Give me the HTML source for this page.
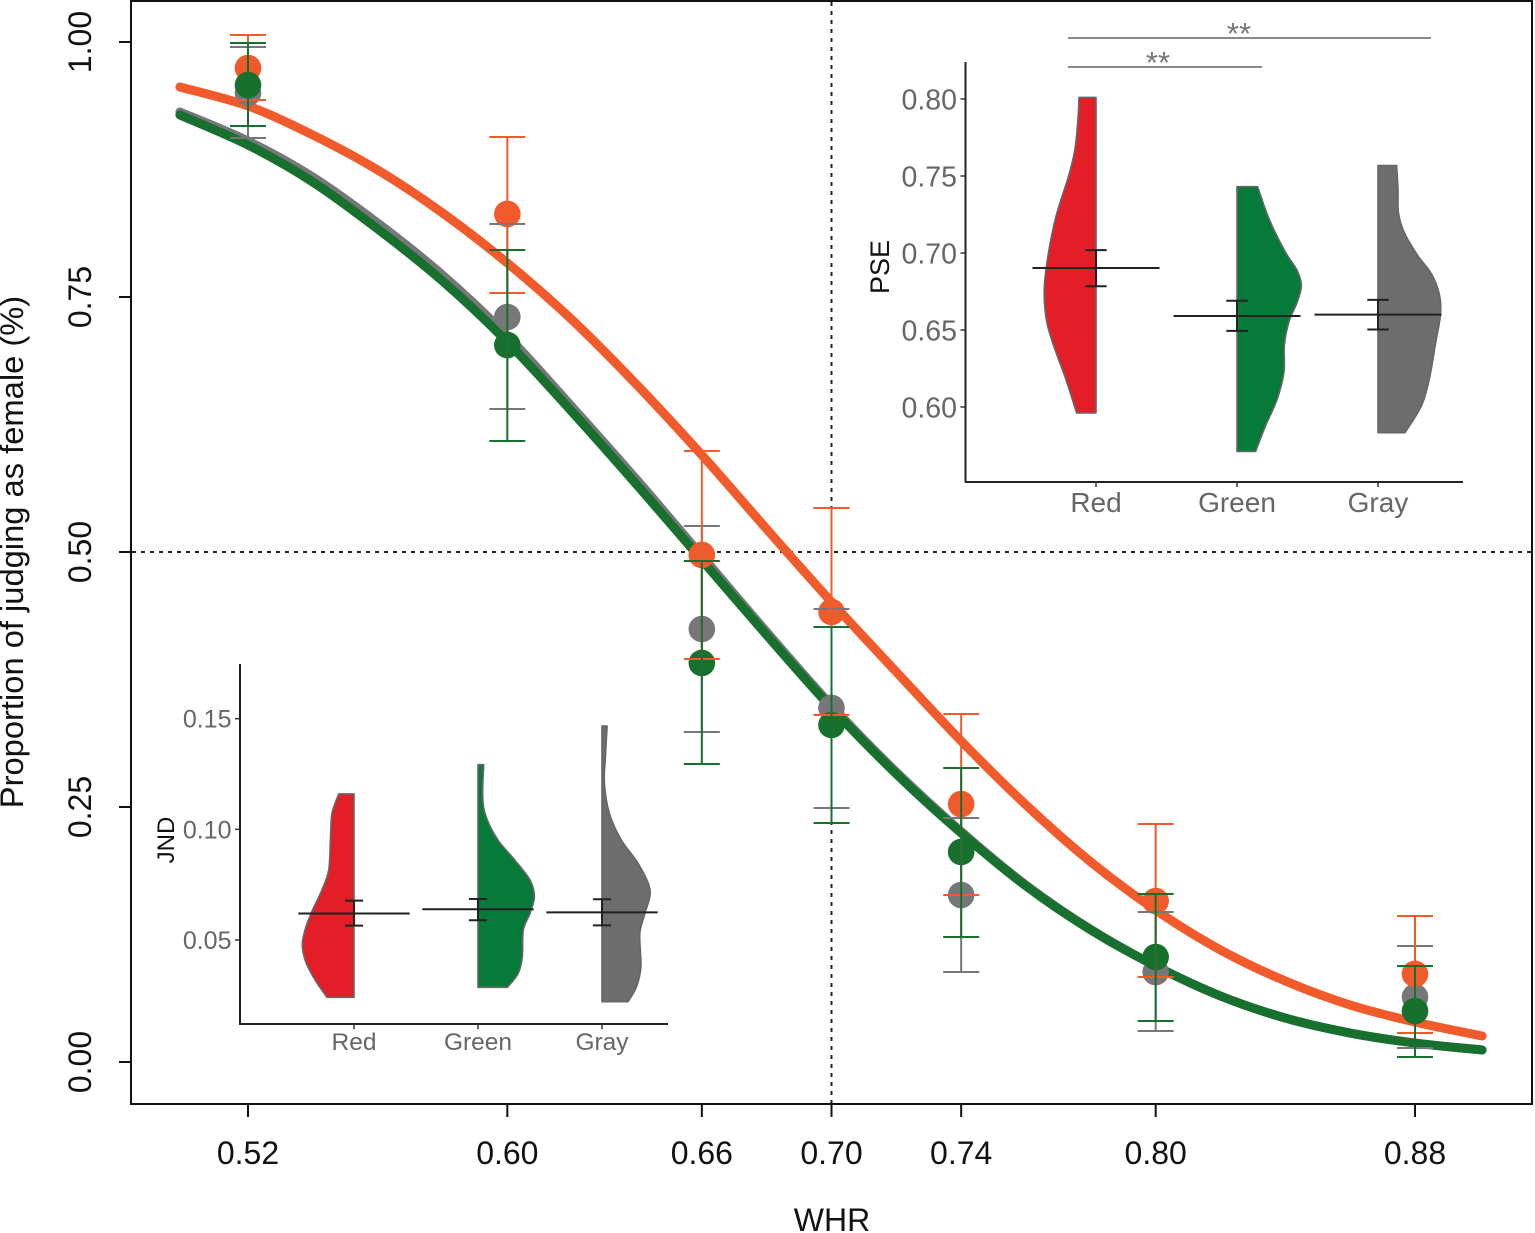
<!DOCTYPE html>
<html lang="en">
<head>
<meta charset="utf-8">
<title>Proportion of judging as female by WHR</title>
<style>
html,body{margin:0;padding:0;background:#fff;}
svg{display:block;font-family:"Liberation Sans",Arial,sans-serif;}
</style>
</head>
<body>
<svg id="chart" xmlns="http://www.w3.org/2000/svg" width="1535" height="1233" viewBox="0 0 1535 1233">
  <rect x="0" y="0" width="1535" height="1233" fill="#fff"/>
  <line x1="831.5" y1="2" x2="831.5" y2="1103" stroke="#222" stroke-width="2" stroke-dasharray="4 5"/>
  <line x1="132" y1="552" x2="1531" y2="552" stroke="#222" stroke-width="2" stroke-dasharray="4 5"/>
  <g id="main-curves"></g>
  <g id="main-points"></g>
  <g id="main-bars"></g>
  <rect x="131" y="1" width="1401" height="1103" fill="none" stroke="#111" stroke-width="2"/>
  <g id="main-axes"></g>
  <text x="832" y="1231" text-anchor="middle" font-size="32" fill="#111">WHR</text>
  <text transform="translate(23 552) rotate(-90)" text-anchor="middle" font-size="32.7" fill="#111">Proportion of judging as female (%)</text>

  <g id="pse-inset">
    <line x1="965.5" y1="62" x2="965.5" y2="482" stroke="#222" stroke-width="2"/>
    <line x1="965" y1="482" x2="1463" y2="482" stroke="#222" stroke-width="2"/>
    <text transform="translate(889 267) rotate(-90)" text-anchor="middle" font-size="27" fill="#111">PSE</text>
    <line x1="1068" y1="38" x2="1431" y2="38" stroke="#8a8a8a" stroke-width="2"/>
    <text x="1239" y="44" text-anchor="middle" font-size="31" fill="#77777a">**</text>
    <line x1="1068" y1="67" x2="1262" y2="67" stroke="#8a8a8a" stroke-width="2"/>
    <text x="1158" y="73" text-anchor="middle" font-size="31" fill="#77777a">**</text>
  </g>

  <g id="jnd-inset">
    <line x1="240" y1="664" x2="240" y2="1024" stroke="#222" stroke-width="2"/>
    <line x1="239" y1="1024" x2="668" y2="1024" stroke="#222" stroke-width="2"/>
    <text transform="translate(174 840) rotate(-90)" text-anchor="middle" font-size="24" fill="#111">JND</text>
  </g>
</svg>

<script>
// ---- Main chart data ----
const whrTicks = [0.52, 0.60, 0.66, 0.70, 0.74, 0.80, 0.88];
const proportionTicks = [0.00, 0.25, 0.50, 0.75, 1.00];

const redMeans = [0.9745, 0.8314, 0.4971, 0.4412, 0.2529, 0.1578, 0.0863];
const redUpper = [1.0069, 0.9069, 0.5990, 0.5431, 0.3412, 0.2333, 0.1431];
const redLower = [0.9431, 0.7539, 0.3951, 0.3402, 0.1637, 0.0833, 0.0284];

const grayMeans = [0.9500, 0.7304, 0.4245, 0.3471, 0.1637, 0.0882, 0.0637];
const grayUpper = [0.9951, 0.8216, 0.5255, 0.4441, 0.2392, 0.1471, 0.1137];
const grayLower = [0.9059, 0.6402, 0.3235, 0.2490, 0.0882, 0.0304, 0.0137];

const greenMeans = [0.9578, 0.7029, 0.3912, 0.3304, 0.2059, 0.1029, 0.0500];
const greenUpper = [0.9990, 0.7961, 0.4912, 0.4265, 0.2882, 0.1647, 0.0941];
const greenLower = [0.9176, 0.6088, 0.2922, 0.2343, 0.1225, 0.0402, 0.0049];

const curveWhr = [0.499, 0.52, 0.54, 0.56, 0.58, 0.60, 0.62, 0.64, 0.66, 0.68, 0.70, 0.72, 0.74, 0.76, 0.78, 0.80, 0.82, 0.84, 0.86, 0.88, 0.9007];
const redCurve = [0.9559, 0.9373, 0.9088, 0.8745, 0.8324, 0.7833, 0.7275, 0.6637, 0.5951, 0.5225, 0.4510, 0.3824, 0.3147, 0.2520, 0.1961, 0.1490, 0.1098, 0.0794, 0.0559, 0.0392, 0.0255];
const grayCurve = [0.9314, 0.9029, 0.8676, 0.8225, 0.7716, 0.7118, 0.6422, 0.5706, 0.4961, 0.4216, 0.3495, 0.2843, 0.2260, 0.1735, 0.1299, 0.0941, 0.0647, 0.0431, 0.0284, 0.0186, 0.0118];
const greenCurve = [0.9284, 0.8990, 0.8627, 0.8167, 0.7657, 0.7059, 0.6373, 0.5657, 0.4922, 0.4186, 0.3471, 0.2824, 0.2245, 0.1725, 0.1294, 0.0941, 0.0647, 0.0431, 0.0284, 0.0186, 0.0118];

// ---- PSE inset data ----
const conditionLabels = ['Red', 'Green', 'Gray'];
const pseTicks = [0.60, 0.65, 0.70, 0.75, 0.80];
const pseRedLevels = [0.801, 0.7875, 0.7677, 0.7502, 0.7238, 0.6975, 0.6755, 0.6558, 0.6382, 0.6185, 0.5961];
const pseRedDensity = [0.170, 0.180, 0.210, 0.273, 0.400, 0.482, 0.518, 0.494, 0.415, 0.304, 0.194];
const pseGreenLevels = [0.7431, 0.7216, 0.7008, 0.6887, 0.6788, 0.6679, 0.6558, 0.6404, 0.6229, 0.6053, 0.5877, 0.5711];
const pseGreenDensity = [0.206, 0.324, 0.482, 0.601, 0.644, 0.601, 0.522, 0.474, 0.470, 0.403, 0.285, 0.186];
const pseGrayLevels = [0.7568, 0.7414, 0.7260, 0.7129, 0.6986, 0.6865, 0.6733, 0.6602, 0.6404, 0.6185, 0.6009, 0.5833];
const pseGrayDensity = [0.186, 0.200, 0.205, 0.265, 0.395, 0.534, 0.613, 0.625, 0.573, 0.514, 0.435, 0.269];
const pseMeans = [0.6903, 0.6591, 0.6600];
const pseUpper = [0.7019, 0.6690, 0.6696];
const pseLower = [0.6784, 0.6494, 0.6503];

// ---- JND inset data ----
const jndTicks = [0.05, 0.10, 0.15];
const jndRedLevels = [0.1160, 0.1072, 0.0952, 0.0816, 0.0726, 0.0628, 0.0545, 0.0477, 0.0402, 0.0319, 0.0241];
const jndRedDensity = [0.152, 0.220, 0.236, 0.253, 0.321, 0.422, 0.490, 0.517, 0.483, 0.389, 0.270];
const jndGreenLevels = [0.1292, 0.1148, 0.1057, 0.0952, 0.0861, 0.0771, 0.0696, 0.0620, 0.0545, 0.0425, 0.0349, 0.0286];
const jndGreenDensity = [0.057, 0.047, 0.081, 0.199, 0.368, 0.520, 0.564, 0.520, 0.453, 0.443, 0.402, 0.294];
const jndGrayLevels = [0.1467, 0.1328, 0.1208, 0.1072, 0.0952, 0.0846, 0.0726, 0.0620, 0.0530, 0.0380, 0.0289, 0.0221];
const jndGrayDensity = [0.051, 0.034, 0.024, 0.074, 0.193, 0.361, 0.480, 0.429, 0.378, 0.389, 0.345, 0.260];
const jndMeans = [0.0620, 0.0639, 0.0625];
const jndUpper = [0.0678, 0.0685, 0.0684];
const jndLower = [0.0565, 0.0589, 0.0566];

// ---- Axis functions ----
function xMain(v) { return 248 + (v - 0.52) * 3241.67; }
function yMain(v) { return 1062 - v * 1020; }
function yPse(v) { return 99 + (0.80 - v) * 1540; }
function yJnd(v) { return 940 - (v - 0.05) * 2213; }
function densityPx(d) { return d * 100; }
const pseCenters = [1096, 1237, 1378];
const jndCenters = [354, 478, 602];

const NS = 'http://www.w3.org/2000/svg';
function make(tag, parent) {
  const el = document.createElementNS(NS, tag);
  parent.appendChild(el);
  return el;
}
function smoothPath(pts, startCmd) {
  let d = (startCmd || 'M') + pts[0][0].toFixed(2) + ' ' + pts[0][1].toFixed(2);
  for (let i = 0; i < pts.length - 1; i++) {
    const p0 = pts[Math.max(i - 1, 0)], p1 = pts[i], p2 = pts[i + 1], p3 = pts[Math.min(i + 2, pts.length - 1)];
    const c1x = p1[0] + (p2[0] - p0[0]) / 6, c1y = p1[1] + (p2[1] - p0[1]) / 6;
    const c2x = p2[0] - (p3[0] - p1[0]) / 6, c2y = p2[1] - (p3[1] - p1[1]) / 6;
    d += 'C' + c1x.toFixed(2) + ' ' + c1y.toFixed(2) + ' ' + c2x.toFixed(2) + ' ' + c2y.toFixed(2) + ' ' + p2[0].toFixed(2) + ' ' + p2[1].toFixed(2);
  }
  return d;
}

// ---- Main curves ----
const curvesG = document.getElementById('main-curves');
[['gray', grayCurve, '#77777a'], ['green', greenCurve, '#17702e'], ['red', redCurve, '#f15a2b']].forEach(function (s) {
  const el = make('path', curvesG);
  
  
  el.setAttribute('d', smoothPath(curveWhr.map(function (w, i) { return [xMain(w), yMain(s[1][i])]; })));
  el.setAttribute('fill', 'none');
  el.setAttribute('stroke', s[2]);
  el.setAttribute('stroke-width', '9');
  el.setAttribute('stroke-linecap', 'round');
});

// ---- Points ----
const pointsG = document.getElementById('main-points');
[['gray', grayMeans, '#77777a'], ['red', redMeans, '#f15a2b'], ['green', greenMeans, '#17702e']].forEach(function (s) {
  s[1].forEach(function (v, i) {
    const el = make('circle', pointsG);
    
    
    el.setAttribute('cx', xMain(whrTicks[i]));
    el.setAttribute('cy', yMain(v));
    el.setAttribute('r', '13.3');
    el.setAttribute('fill', s[2]);
  });
});

// ---- Error bars ----
const barsG = document.getElementById('main-bars');
[['gray', grayUpper, grayLower, '#77777a'], ['red', redUpper, redLower, '#f15a2b'], ['green', greenUpper, greenLower, '#17702e']].forEach(function (s) {
  whrTicks.forEach(function (w, i) {
    const x = xMain(w), yu = yMain(s[1][i]), yl = yMain(s[2][i]);
    const el = make('path', barsG);
    
    
    el.setAttribute('d', 'M' + (x - 18) + ' ' + yu + 'H' + (x + 18) + 'M' + x + ' ' + yu + 'V' + yl + 'M' + (x - 18) + ' ' + yl + 'H' + (x + 18));
    el.setAttribute('fill', 'none');
    el.setAttribute('stroke', s[3]);
    el.setAttribute('stroke-width', '2');
  });
});

// ---- Main axes ----
const axesG = document.getElementById('main-axes');
whrTicks.forEach(function (w) {
  const t = make('line', axesG);
  
  
  t.setAttribute('x1', xMain(w));
  t.setAttribute('x2', xMain(w));
  t.setAttribute('y1', 1104);
  t.setAttribute('y2', 1117);
  t.setAttribute('stroke', '#111');
  t.setAttribute('stroke-width', '2');
  const l = make('text', axesG);
  
  
  l.setAttribute('x', xMain(w));
  l.setAttribute('y', 1164);
  l.setAttribute('text-anchor', 'middle');
  l.setAttribute('font-size', '32');
  l.setAttribute('fill', '#111');
  l.textContent = w.toFixed(2);
});
proportionTicks.forEach(function (v) {
  const t = make('line', axesG);
  
  
  t.setAttribute('x1', 119);
  t.setAttribute('x2', 131);
  t.setAttribute('y1', yMain(v));
  t.setAttribute('y2', yMain(v));
  t.setAttribute('stroke', '#111');
  t.setAttribute('stroke-width', '2');
  const l = make('text', axesG);
  
  
  l.setAttribute('transform', 'translate(91 ' + yMain(v) + ') rotate(-90)');
  l.setAttribute('text-anchor', 'middle');
  l.setAttribute('font-size', '32');
  l.setAttribute('fill', '#111');
  l.textContent = v.toFixed(2);
});

// ---- Insets ----
const violinFills = { Red: '#e41e26', Green: '#067a38', Gray: '#6d6d6d' };
function drawInset(opts) {
  const g = document.getElementById(opts.group);
  opts.ticks.forEach(function (v) {
    const t = make('line', g);
    
    
    t.setAttribute('x1', opts.axisX - 5);
    t.setAttribute('x2', opts.axisX);
    t.setAttribute('y1', opts.y(v));
    t.setAttribute('y2', opts.y(v));
    t.setAttribute('stroke', '#333');
    t.setAttribute('stroke-width', '1.5');
    const l = make('text', g);
    
    
    l.setAttribute('x', opts.axisX - 8.5);
    l.setAttribute('y', opts.y(v) + opts.font * 0.36);
    l.setAttribute('text-anchor', 'end');
    l.setAttribute('font-size', opts.font);
    l.setAttribute('fill', '#666');
    l.textContent = v.toFixed(2);
  });
  conditionLabels.forEach(function (name, i) {
    const cx = opts.centers[i];
    const side = name === 'Red' ? -1 : 1;
    const levels = opts.levels[i], dens = opts.density[i];
    const edge = levels.map(function (v, k) { return [cx + side * densityPx(dens[k]), opts.y(v)]; });
    const v = make('path', g);
    
    
    v.setAttribute('d', 'M' + cx + ' ' + edge[0][1].toFixed(2) + smoothPath(edge, 'L') + 'L' + cx + ' ' + edge[edge.length - 1][1].toFixed(2) + 'Z');
    v.setAttribute('fill', violinFills[name]);
    v.setAttribute('stroke', '#666');
    v.setAttribute('stroke-width', '1.6');
    v.setAttribute('stroke-linejoin', 'round');

    const ym = opts.y(opts.means[i]), yu = opts.y(opts.upper[i]), yl = opts.y(opts.lower[i]);
    const e = make('path', g);
    
    
    e.setAttribute('d', 'M' + (cx - opts.meanHalf) + ' ' + ym + 'H' + (cx + opts.meanHalf) +
      'M' + (cx - opts.capHalf) + ' ' + yu + 'H' + (cx + opts.capHalf) +
      'M' + cx + ' ' + yu + 'V' + yl +
      'M' + (cx - opts.capHalf) + ' ' + yl + 'H' + (cx + opts.capHalf));
    e.setAttribute('fill', 'none');
    e.setAttribute('stroke', '#222');
    e.setAttribute('stroke-width', '2');

    const t = make('line', g);
    
    
    t.setAttribute('x1', cx);
    t.setAttribute('x2', cx);
    t.setAttribute('y1', opts.bottom);
    t.setAttribute('y2', opts.bottom + 5);
    t.setAttribute('stroke', '#333');
    t.setAttribute('stroke-width', '1.5');

    const l = make('text', g);
    
    
    l.setAttribute('x', cx);
    l.setAttribute('y', opts.labelY);
    l.setAttribute('text-anchor', 'middle');
    l.setAttribute('font-size', opts.labelFont);
    l.setAttribute('fill', '#666');
    l.textContent = name;
  });
}

drawInset({
  group: 'pse-inset', prefix: 'pse', ticks: pseTicks, y: yPse, axisX: 965.5, font: 28.5,
  centers: pseCenters, bottom: 482, labelY: 512, labelFont: 28, meanHalf: 63.5, capHalf: 10.7,
  levels: [pseRedLevels, pseGreenLevels, pseGrayLevels],
  density: [pseRedDensity, pseGreenDensity, pseGrayDensity],
  means: pseMeans, upper: pseUpper, lower: pseLower
});
drawInset({
  group: 'jnd-inset', prefix: 'jnd', ticks: jndTicks, y: yJnd, axisX: 240, font: 25,
  centers: jndCenters, bottom: 1024, labelY: 1050, labelFont: 24.5, meanHalf: 55.7, capHalf: 9.1,
  levels: [jndRedLevels, jndGreenLevels, jndGrayLevels],
  density: [jndRedDensity, jndGreenDensity, jndGrayDensity],
  means: jndMeans, upper: jndUpper, lower: jndLower
});
</script>
</body>
</html>
